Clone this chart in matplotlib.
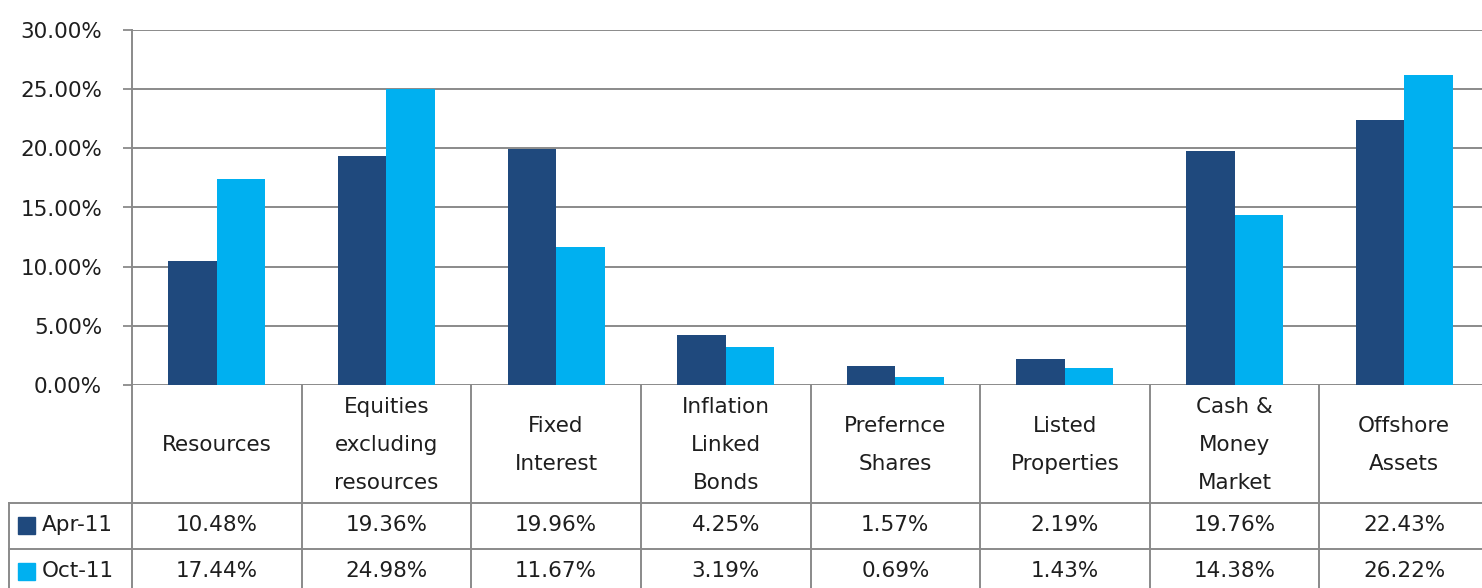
import numpy as np
import matplotlib.pyplot as plt
from matplotlib.transforms import blended_transform_factory
from matplotlib.patches import Rectangle

# Asset allocation data
categories = ['Resources', 'Equities\nexcluding\nresources', 'Fixed\nInterest',
              'Inflation\nLinked\nBonds', 'Prefernce\nShares', 'Listed\nProperties',
              'Cash &\nMoney\nMarket', 'Offshore\nAssets']
apr_11 = [10.48, 19.36, 19.96, 4.25, 1.57, 2.19, 19.76, 22.43]
oct_11 = [17.44, 24.98, 11.67, 3.19, 0.69, 1.43, 14.38, 26.22]
series_names = ['Apr-11', 'Oct-11']
colors = ['#1F497D', '#00B0F0']

W, H = 1482, 588
FS = 15.5
TXT = '#1e1e1e'
LINE = '#8a8a8a'

plt.rcParams['font.family'] = ['DejaVu Sans']

fig = plt.figure(figsize=(W / 100, H / 100), dpi=100)
ax = fig.add_axes([132 / W, 1 - 385 / H, 1357 / W, 355 / H])

x = np.arange(len(categories))
bw = 1 / 3.5
ax.bar(x - bw / 2, np.array(apr_11) / 100, bw, color=colors[0], zorder=3)
ax.bar(x + bw / 2, np.array(oct_11) / 100, bw, color=colors[1], zorder=3)

ax.set_xlim(-0.5, len(categories) - 0.5)
ax.set_ylim(0, 0.30)
ax.set_yticks(np.arange(0, 0.301, 0.05))
ax.set_yticklabels([f'{v * 100:.2f}%' for v in np.arange(0, 0.301, 0.05)],
                   fontsize=FS, color=TXT)
ax.tick_params(axis='y', length=6.5, width=1.3, color=LINE, pad=15)
ax.tick_params(axis='x', length=0, labelbottom=False)
ax.yaxis.grid(True, color=LINE, linewidth=1.4, zorder=0)
for s in ['top', 'right', 'bottom']:
    ax.spines[s].set_visible(False)
ax.spines['left'].set_color(LINE)
ax.spines['left'].set_linewidth(1.4)

# data table under the chart
tr = blended_transform_factory(ax.transData, ax.transAxes)
cw = 169.6
x_left = -0.5 - (132 - 9) / cw
y_hdr = (385 - 503) / 355
y_r1 = (385 - 549) / 355
y_r2 = (385 - 600) / 355
lw = 1.4

# vertical lines
ax.plot([-0.5, -0.5], [0, y_r2], color=LINE, lw=lw, transform=tr, clip_on=False)
for i in range(1, len(categories) + 1):
    ax.plot([i - 0.5, i - 0.5], [0, y_r2], color=LINE, lw=lw, transform=tr, clip_on=False)
ax.plot([x_left, x_left], [y_hdr, y_r2], color=LINE, lw=lw, transform=tr, clip_on=False)
# horizontal lines
for yy in [y_hdr, y_r1, y_r2]:
    ax.plot([x_left, len(categories) - 0.5], [yy, yy], color=LINE, lw=lw,
            transform=tr, clip_on=False)

# header labels
for i, c in enumerate(categories):
    ax.text(i, (385 - 445) / 355, c, transform=tr, ha='center', va='center',
            fontsize=FS, color=TXT, linespacing=2.1)

# rows
row_y = [(385 - 525) / 355, (385 - 571) / 355]
sq_w = 17 / cw
sq_h = 17 / 355
for name, vals, col, ry in zip(series_names, [apr_11, oct_11], colors, row_y):
    ax.add_patch(Rectangle((-0.5 - (132 - 18) / cw, ry - sq_h / 2), sq_w, sq_h,
                           transform=tr, color=col, clip_on=False))
    ax.text(-0.5 - (132 - 42) / cw, ry, name, transform=tr, ha='left', va='center',
            fontsize=FS, color=TXT)
    for i, v in enumerate(vals):
        ax.text(i, ry, f'{v:.2f}%', transform=tr, ha='center', va='center',
                fontsize=FS, color=TXT)

plt.savefig('out.png', dpi=100)
